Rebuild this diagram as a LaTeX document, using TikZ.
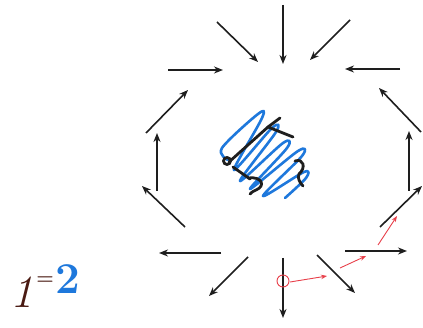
\documentclass[tikz,border=0pt]{standalone}
\usetikzlibrary{arrows.meta}
\definecolor{ink}{HTML}{1E1E1E}
\definecolor{penblue}{HTML}{1E78DC}
\definecolor{penbrown}{HTML}{4A1A12}
\definecolor{penred}{HTML}{E8404A}
\tikzset{
  arr/.style={draw=ink, line width=1.6pt, -{Stealth[length=9pt,width=7pt]}},
  redarr/.style={draw=penred, line width=0.9pt, -{Stealth[length=6pt,width=4.5pt]}},
  scrib/.style={draw=ink, line width=2.8pt, line cap=round, line join=round},
  bluescrib/.style={draw=penblue, line width=2.6pt, line cap=round, line join=round},
}
\begin{document}
\begin{tikzpicture}[x=1pt,y=-1pt]
\useasboundingbox[fill=white] (0,0) rectangle (423,328);
% arrow end points
\coordinate (t1s) at (283,5);   \coordinate (t1e) at (283,64);
\coordinate (t2s) at (217,22);  \coordinate (t2e) at (258,62);
\coordinate (t3s) at (350,20);  \coordinate (t3e) at (310,60);
\coordinate (t4s) at (168,70);  \coordinate (t4e) at (223,70);
\coordinate (t5s) at (400,69);  \coordinate (t5e) at (345,69);
\coordinate (l1s) at (146,133); \coordinate (l1e) at (188,90);
\coordinate (l2s) at (157,191); \coordinate (l2e) at (157,133);
\coordinate (l3s) at (185,227); \coordinate (l3e) at (142,186);
\coordinate (b1s) at (221,253); \coordinate (b1e) at (159,253);
\coordinate (b2s) at (248,257); \coordinate (b2e) at (209,296);
\coordinate (b3s) at (283,258); \coordinate (b3e) at (283,318);
\coordinate (b4s) at (317,255); \coordinate (b4e) at (355,293);
\coordinate (b5s) at (345,251); \coordinate (b5e) at (407,251);
\coordinate (r1s) at (380,227); \coordinate (r1e) at (422,186);
\coordinate (r2s) at (409,191); \coordinate (r2e) at (409,131);
\coordinate (r3s) at (421,132); \coordinate (r3e) at (379,88);
\foreach \n in {t1,t2,t3,t4,t5,l1,l2,l3,b1,b2,b3,b4,b5,r1,r2,r3}
  \draw[arr] (\n s) -- (\n e);
% red path
\coordinate (rc) at (283,281);
\draw[penred, line width=0.9pt] (rc) circle[radius=6];
\coordinate (p1s) at (290,282); \coordinate (p1e) at (327,276);
\coordinate (p2s) at (340,268); \coordinate (p2e) at (366,256);
\coordinate (p3s) at (378,245); \coordinate (p3e) at (397,216);
\foreach \n in {p1,p2,p3}
  \draw[redarr] (\n s) -- (\n e);
% blue scribble
\draw[bluescrib] plot[smooth, tension=0.55] coordinates {
  (228,160) (222,148) (258,114) (262,118) (234,170) (272,128) (276,132)
  (240,181) (283,143) (287,148) (250,189) (298,151) (302,156)
  (263,196) (304,172) (306,178) (285,198)};
% black scribble
\coordinate (k1) at (280,118);
\coordinate (k2) at (268,127);
\coordinate (k3) at (293,137);
\coordinate (k4) at (229,162);
\draw[scrib] (k1) -- (k2) -- (k3);
\draw[scrib] (k2) -- (k4);
\draw[scrib] (k4) ++(-2,-1) circle[radius=3.5];
\coordinate (k5) at (233,167);
\coordinate (k6) at (250,179);
\draw[scrib] (k5) -- (k6);
\draw[scrib] (248,178) .. controls (262,176) and (266,186) .. (256,190)
  .. controls (252,192) .. (250,194);
\draw[scrib] (295,161) .. controls (304,158) and (306,168) .. (299,174)
  .. controls (297,178) and (300,183) .. (303,186);
% text
\node[text=penbrown, font=\fontsize{46}{46}\selectfont\itshape] (one) at (22,292) {1};
\node[text=penbrown, font=\fontsize{20}{20}\selectfont\bfseries] (eq) at (45,281) {=};
\node[text=penblue, font=\fontsize{44}{44}\selectfont\bfseries] (two) at (68,279) {2};
\end{tikzpicture}
\end{document}
